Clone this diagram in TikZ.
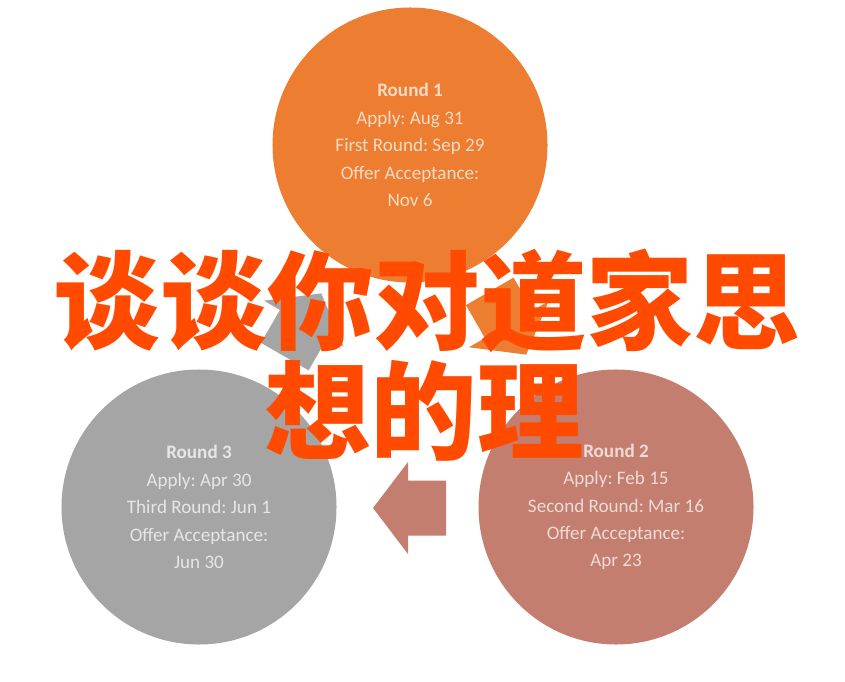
\documentclass[tikz,border=0pt]{standalone}
\usepackage{fontspec}
\setmainfont{Carlito}
\newfontfamily\cjk{Noto Sans CJK SC}
\frenchspacing
\definecolor{roundone}{HTML}{ED7D31}
\definecolor{roundtwo}{HTML}{C47E6F}
\definecolor{roundthree}{HTML}{A5A5A5}
\definecolor{titlered}{HTML}{FF4A00}
\tikzset{
    roundcircle/.style={circle, fill=#1, minimum size=8.25cm, inner sep=0pt,
        align=center, text=white!72!#1, font=\fontsize{16.3}{23.4}\selectfont},
    titletext/.style={text=titlered, inner sep=0pt,
        font=\cjk\bfseries\fontsize{91}{96}\selectfont}
}
\begin{document}
\begin{tikzpicture}[x=0.03cm, y=-0.03cm]
    % Canvas: 845 x 682 px
    \fill[white] (0,0) rectangle (845,682);
    \useasboundingbox (0,0) rectangle (845,682);

    % The three rounds
    \node[roundcircle=roundone] (round1) at (410,145)
        {\textbf{Round 1}\\Apply: Aug 31\\First Round: Sep 29\\Offer Acceptance:\\Nov 6};
    \node[roundcircle=roundtwo] (round2) at (616,507)
        {\textbf{Round 2}\\Apply: Feb 15\\Second Round: Mar 16\\Offer Acceptance:\\Apr 23};
    \node[roundcircle=roundthree] (round3) at (199,507)
        {\textbf{Round 3}\\Apply: Apr 30\\Third Round: Jun 1\\Offer Acceptance:\\Jun 30};

    % Block arrows between the rounds (centre x / centre y / angle / colour)
    \foreach \cx/\cy/\ang/\col in {409.5/508/180/roundtwo, 508/323/-60/roundone, 303/325/60/roundthree} {
        \fill[\col, shift={(\cx,\cy)}, rotate=\ang]
            (36.5,0) -- (1.5,46) -- (1.5,27.5) -- (-36.5,27.5)
            -- (-36.5,-27.5) -- (1.5,-27.5) -- (1.5,-46) -- cycle;
    }

    % Title over everything
    \node[titletext] (title1) at (427,301) {谈谈你对道家思};
    \node[titletext] (title2) at (424,411) {想的理};
\end{tikzpicture}
\end{document}
